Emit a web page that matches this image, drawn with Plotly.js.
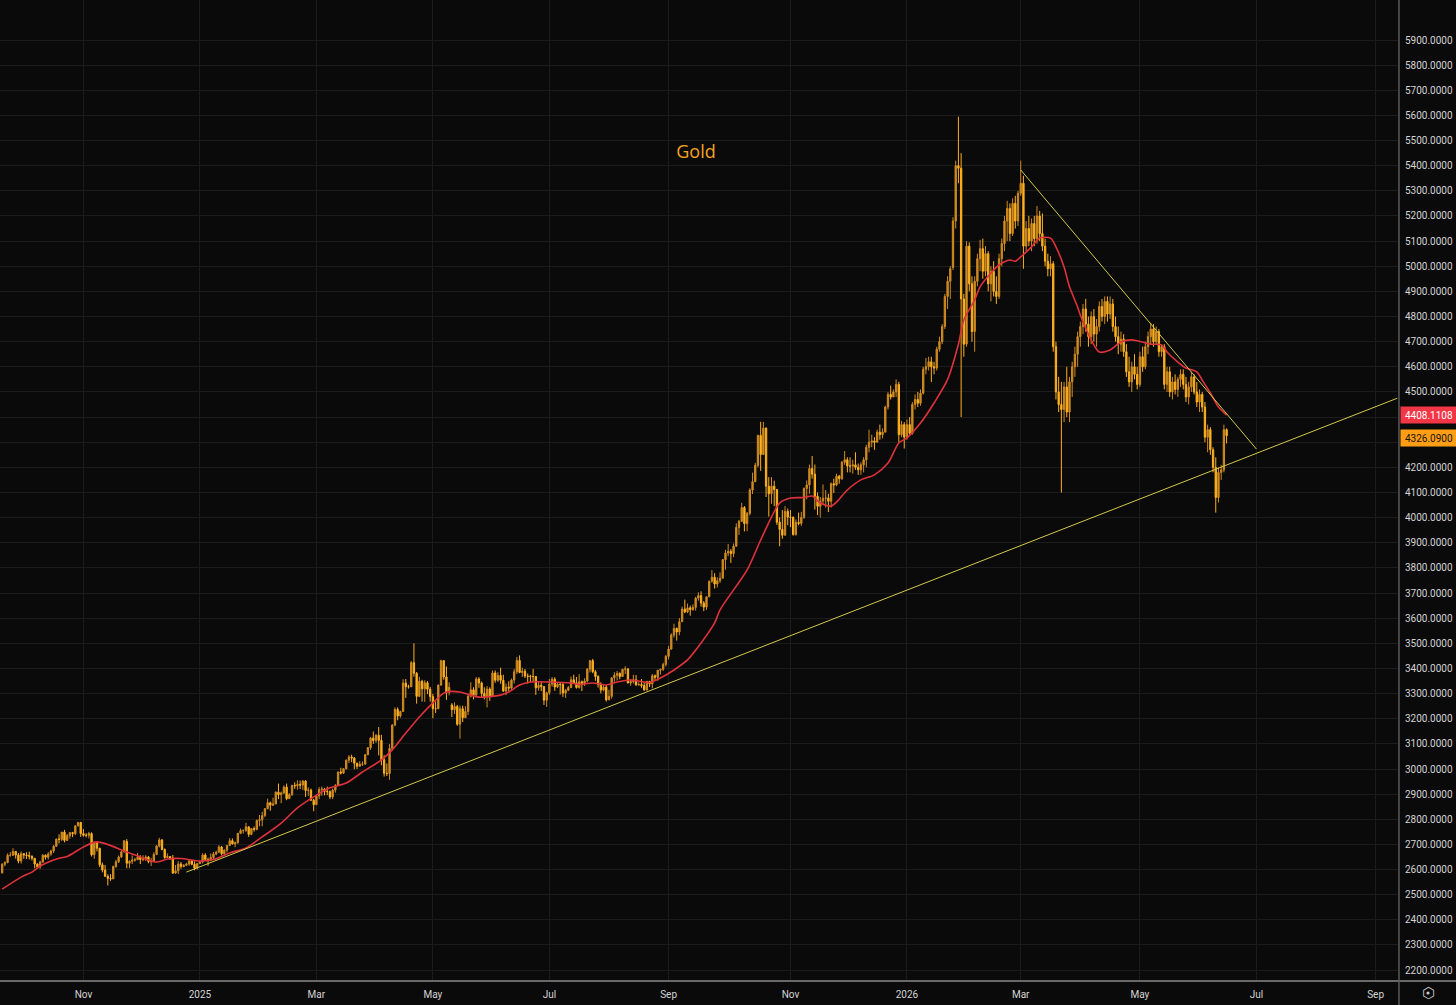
<!DOCTYPE html>
<html><head><meta charset="utf-8">
<script src="https://cdn.plot.ly/plotly-3.0.1.min.js"></script>
<style>html,body{margin:0;padding:0;background:#0a0a0a;overflow:hidden}#chart{width:1456px;height:1005px}</style>
</head><body><div id="chart"></div>
<script>
// first bar date; one bar per weekday
const startDate = '2024-09-20';

const open = [2587,
2621,2628,2657,2657,2672, 2658,2634,2663,2658,2656, 2653,2645,2622,2611,2630, 2657,2649,2662,2674,2693, 2721,2720,2749,2716,2735,
2747,2743,2774,2787,2743, 2736,2736,2743,2659,2706, 2685,2619,2598,2573,2565, 2563,2612,2631,2650,2670, 2712,2625,2633,2638,2639,
2650,2640,2643,2650,2632, 2633,2660,2694,2718,2680, 2648,2652,2646,2586,2595, 2622,2612,2617,2622,2634, 2621,2606,2624,2630,2658,
2640,2636,2648,2662,2669, 2690,2663,2677,2696,2715, 2702,2708,2744,2755,2755, 2770,2740,2763,2760,2795, 2798,2815,2842,2866,2856,
2861,2908,2898,2905,2928, 2882,2898,2935,2933,2939, 2936,2952,2915,2916,2876, 2858,2893,2918,2920,2911, 2910,2889,2916,2934,2988,
2984,3001,3035,3048,3044, 3023,3011,3019,3020,3057, 3085,3123,3113,3134,3114, 3037,2983,2982,3082,3175, 3237,3211,3229,3342,3327,
3327,3423,3381,3289,3349, 3319,3343,3317,3288,3240, 3240,3334,3431,3366,3306, 3255,3236,3249,3178,3240, 3204,3229,3290,3315,3295,
3358,3342,3301,3288,3318, 3289,3382,3353,3372,3353, 3310,3326,3322,3354,3387, 3432,3384,3389,3370,3369, 3368,3368,3323,3333,3328,
3274,3303,3338,3357,3326, 3337,3336,3302,3313,3324, 3355,3343,3324,3347,3339, 3350,3397,3431,3387,3368, 3337,3314,3326,3275,3289,
3363,3373,3380,3368,3397, 3398,3342,3348,3355,3335, 3336,3332,3315,3348,3339, 3371,3365,3393,3397,3416, 3448,3477,3533,3559,3545,
3586,3636,3625,3641,3634, 3643,3680,3690,3660,3644, 3685,3747,3763,3736,3749, 3759,3833,3859,3866,3857, 3886,3961,3985,4040,3976,
4017,4110,4143,4208,4327, 4251,4356,4125,4095,4125, 4112,3982,3953,3930,4025, 4002,4001,3933,3981,3977, 4001,4116,4130,4195,4173,
4085,4045,4066,4077,4078, 4065,4135,4130,4165,4155, 4220,4230,4205,4205,4210, 4200,4190,4210,4230,4280, 4300,4305,4300,4340,4330,
4340,4440,4490,4480,4500, 4530,4330,4370,4320,4370,
4335,4450,4470,4455,4495, 4590,4600,4620,4600,4595, 4670,4700,4760,4880,4940, 4995,5180,5400,5390,4870, 4690,5080,4930,4740,4940,
5030,5070,4980,5050,4930, 4980,4900,4880,5030,5090, 5180,5230,5130,5250,5180, 5290,5330,5080,5150,5100, 5170,5110,5200,5130,5080,
5020,4990,5010,4680,4500, 4450,4430,4520,4420,4540, 4600,4650,4720,4760,4830, 4770,4720,4800,4730,4760, 4840,4800,4860,4810,4850,
4760,4720,4690,4710,4660, 4580,4540,4600,4570,4530, 4640,4600,4680,4720,4750, 4700,4740,4660,4680,4530, 4580,4500,4540,4510,4550,
4570,4530,4480,4520,4560, 4500,4460,4490,4440,4320, 4350,4270,4200,4080,4180, 4190,4350];

const high = [2625,
2633,2664,2670,2685,2674, 2666,2672,2666,2669,2671, 2656,2645,2625,2635,2661, 2660,2669,2679,2697,2723, 2740,2749,2758,2741,2748,
2750,2775,2790,2790,2761, 2745,2750,2748,2711,2709, 2686,2628,2618,2581,2582, 2616,2639,2656,2675,2716, 2721,2637,2656,2647,2666,
2657,2657,2657,2654,2647, 2669,2697,2726,2721,2684, 2664,2652,2658,2618,2633, 2630,2621,2627,2638,2637, 2633,2626,2634,2665,2665,
2647,2664,2670,2675,2697, 2694,2681,2698,2725,2724, 2711,2746,2763,2760,2786, 2772,2765,2771,2799,2817, 2830,2845,2882,2870,2886,
2911,2942,2910,2935,2942, 2904,2937,2947,2955,2954, 2956,2955,2927,2922,2881, 2896,2928,2930,2925,2930, 2915,2922,2940,2990,3005,
3004,3038,3055,3057,3047, 3025,3031,3030,3059,3087, 3128,3149,3139,3167,3136, 3055,3022,3099,3178,3245, 3245,3232,3357,3358,3335,
3430,3500,3386,3367,3355, 3353,3350,3327,3299,3269, 3336,3435,3433,3408,3345, 3262,3265,3255,3252,3252, 3250,3296,3345,3325,3366,
3365,3348,3325,3330,3325, 3392,3392,3385,3403,3375, 3340,3349,3360,3398,3446, 3452,3403,3398,3380,3375, 3398,3370,3347,3350,3328,
3308,3358,3365,3365,3343, 3345,3345,3318,3330,3368, 3375,3366,3377,3352,3361, 3402,3434,3438,3394,3373, 3345,3333,3334,3315,3363,
3385,3390,3385,3398,3409, 3402,3357,3375,3374,3345, 3358,3345,3351,3351,3378, 3376,3394,3398,3423,3454, 3490,3540,3578,3563,3600,
3646,3674,3658,3650,3655, 3685,3703,3707,3668,3686, 3749,3791,3779,3762,3782, 3835,3872,3895,3875,3897, 3977,3991,4059,4046,4022,
4117,4179,4218,4330,4381, 4381,4359,4161,4161,4147, 4097,4001,4030,4046,4036, 4030,4005,3993,4020,4023, 4120,4148,4211,4245,4211,
4100,4082,4132,4110,4095, 4140,4155,4175,4170,4225, 4265,4240,4240,4230,4260, 4215,4220,4240,4290,4350, 4330,4320,4350,4370,4355,
4445,4500,4525,4510,4550, 4540,4385,4380,4390,4400,
4460,4490,4500,4510,4600, 4635,4640,4640,4620,4680, 4720,4770,4890,4960,5000, 5195,5420,5595,5450,4890, 5100,5095,4960,4960,5050,
5105,5110,5080,5060,5000, 5020,4960,5050,5110,5200, 5260,5250,5270,5280,5300, 5420,5360,5180,5200,5190, 5200,5240,5220,5210,5110,
5050,5040,5020,4700,4560, 4540,4540,4600,4560,4620, 4680,4740,4780,4850,4870, 4800,4820,4830,4790,4860, 4870,4880,4880,4880,4870,
4800,4760,4740,4730,4690, 4640,4620,4650,4600,4660, 4680,4700,4740,4775,4770, 4760,4750,4690,4690,4600, 4600,4560,4570,4560,4590,
4590,4560,4540,4580,4570, 4540,4510,4500,4460,4370, 4360,4280,4240,4200,4210, 4370,4355];

const low = [2584,
2613,2625,2651,2654,2643, 2625,2624,2643,2642,2640, 2636,2605,2605,2603,2626, 2640,2640,2655,2666,2690, 2704,2713,2708,2718,2723,
2729,2737,2771,2730,2731, 2728,2724,2652,2643,2672, 2610,2589,2572,2537,2555, 2562,2607,2626,2647,2668, 2605,2605,2622,2631,2638,
2622,2633,2634,2625,2614, 2630,2659,2688,2677,2643, 2646,2638,2583,2583,2582, 2603,2609,2614,2615,2617, 2597,2600,2622,2624,2635,
2615,2633,2642,2657,2667, 2656,2659,2668,2693,2700, 2689,2702,2741,2743,2750, 2730,2737,2751,2756,2772, 2772,2808,2840,2834,2853,
2860,2880,2864,2900,2876, 2881,2893,2921,2918,2920, 2916,2889,2893,2873,2832, 2857,2880,2894,2895,2896, 2880,2880,2906,2932,2978,
2980,2998,3024,3027,2999, 3000,3009,3012,3016,3055, 3076,3100,3104,3054,3015, 2970,2972,2957,3074,3170, 3194,3204,3228,3283,3320,
3330,3367,3260,3286,3268, 3267,3298,3268,3202,3223, 3238,3331,3355,3275,3293, 3207,3219,3172,3121,3187, 3206,3215,3285,3277,3287,
3323,3285,3277,3245,3271, 3296,3343,3346,3339,3307, 3294,3308,3315,3340,3378, 3381,3366,3362,3340,3345, 3347,3295,3312,3310,3255,
3247,3295,3328,3311,3322, 3296,3287,3283,3310,3322, 3340,3320,3320,3310,3330, 3345,3384,3381,3351,3324, 3301,3309,3268,3282,3280,
3347,3352,3357,3373,3378, 3341,3331,3340,3330,3331, 3323,3311,3311,3326,3321, 3352,3351,3376,3390,3408, 3436,3475,3523,3511,3532,
3586,3620,3620,3610,3630, 3630,3670,3646,3628,3633, 3686,3741,3718,3722,3740, 3760,3793,3847,3820,3843, 3887,3931,3983,3945,3946,
4009,4094,4143,4200,4186, 4250,4082,4004,4055,4046, 3971,3886,3916,3930,3970, 3962,3928,3928,3970,3967, 3995,4073,4095,4155,4032,
4010,4000,4050,4040,4022, 4040,4098,4125,4135,4150, 4210,4180,4180,4175,4190, 4170,4170,4180,4200,4260, 4280,4270,4300,4310,4315,
4340,4430,4470,4480,4480, 4300,4320,4275,4310,4330,
4330,4430,4440,4445,4490, 4570,4585,4540,4570,4585, 4660,4690,4750,4830,4870, 4985,5150,5330,4400,4640, 4680,4900,4700,4660,4920,
4980,4950,4960,4900,4860, 4880,4850,4870,5000,5060, 5100,5100,5120,5150,5160, 5280,4990,5060,5080,5060, 5080,5090,5100,5060,5000,
4960,4960,4660,4470,4420, 4100,4380,4400,4380,4480, 4560,4600,4680,4730,4740, 4680,4690,4700,4680,4740, 4780,4770,4780,4790,4740,
4700,4650,4660,4640,4560, 4520,4500,4550,4510,4520, 4580,4590,4650,4690,4680, 4690,4640,4640,4510,4500, 4480,4470,4490,4480,4520,
4510,4460,4450,4500,4490, 4440,4420,4420,4300,4260, 4250,4180,4020,4060,4150, 4180,4295];

const close = [2621,
2628,2657,2657,2672,2658, 2634,2663,2658,2656,2653, 2645,2622,2611,2630,2657, 2649,2662,2674,2693,2721, 2720,2749,2716,2735,2747,
2743,2774,2787,2743,2736, 2736,2743,2659,2706,2685, 2619,2598,2573,2565,2563, 2612,2631,2650,2670,2715, 2625,2633,2638,2639,2650,
2640,2643,2650,2632,2633, 2660,2694,2718,2680,2648, 2652,2646,2586,2595,2622, 2612,2617,2622,2634,2621, 2606,2624,2630,2658,2640,
2636,2648,2662,2669,2690, 2663,2677,2696,2715,2702, 2708,2744,2755,2755,2770, 2740,2763,2760,2795,2798, 2815,2842,2866,2856,2861,
2908,2898,2905,2928,2882, 2898,2935,2933,2939,2936, 2952,2915,2916,2876,2858, 2893,2918,2920,2911,2910, 2889,2916,2934,2988,2984,
3001,3035,3048,3044,3023, 3011,3019,3020,3057,3085, 3123,3113,3134,3114,3037, 2983,2982,3082,3175,3237, 3211,3229,3342,3327,3327,
3423,3381,3289,3349,3319, 3343,3317,3288,3240,3240, 3334,3431,3366,3306,3325, 3236,3249,3178,3240,3204, 3229,3290,3315,3295,3358,
3342,3301,3288,3318,3289, 3382,3353,3372,3353,3310, 3326,3322,3354,3387,3432, 3384,3389,3370,3369,3368, 3368,3323,3333,3328,3274,
3303,3338,3357,3326,3337, 3336,3302,3313,3324,3355, 3343,3324,3347,3339,3350, 3397,3431,3387,3368,3337, 3314,3326,3275,3289,3363,
3373,3380,3368,3397,3398, 3342,3348,3355,3335,3336, 3332,3315,3348,3339,3371, 3365,3393,3397,3416,3448, 3477,3533,3559,3545,3586,
3636,3625,3641,3634,3643, 3680,3690,3660,3644,3685, 3747,3763,3736,3749,3759, 3833,3859,3866,3857,3886, 3961,3985,4040,3976,4017,
4110,4143,4208,4327,4251, 4356,4125,4095,4125,4112, 3982,3953,3930,4025,4002, 4001,3933,3981,3977,4001, 4116,4130,4195,4173,4085,
4045,4066,4077,4078,4065, 4135,4130,4165,4155,4220, 4230,4205,4205,4210,4200, 4190,4210,4230,4280,4300, 4305,4300,4340,4330,4340,
4440,4490,4480,4500,4530, 4330,4370,4320,4370,4335,
4450,4470,4455,4495,4590, 4600,4620,4600,4595,4670, 4700,4760,4880,4940,4990, 5180,5400,5390,4870,4690, 5080,4930,4740,4940,5030,
5070,4980,5050,4930,4980, 4900,4880,5030,5090,5180, 5230,5130,5250,5180,5290, 5330,5080,5150,5100,5170, 5110,5200,5130,5080,5020,
4990,5010,4680,4500,4450, 4430,4520,4420,4540,4600, 4650,4720,4760,4830,4770, 4720,4800,4730,4760,4840, 4800,4860,4810,4850,4760,
4720,4690,4710,4660,4580, 4540,4600,4570,4530,4640, 4600,4680,4720,4750,4700, 4740,4660,4680,4530,4580, 4500,4540,4510,4550,4570,
4530,4480,4520,4560,4500, 4460,4490,4440,4320,4350, 4270,4200,4080,4180,4190, 4350,4326.09];

// 20-period moving average (bar index -> value)
const maBar = [0,7,11,14,21,24,30,35,46,52,57,61,66,73,78,84,90,96,103,109,115,121,127,133,140,144,149,154,159,163,165,169,172,176,184,187,191,195,202,210,213,218,223,227,232,236,239,243,248,253,258,263,265,275,280,284,287,291,296,299,302,306,308,312,317,322,327,331,334,339,344,349,353,355,359,361,365,368,372,374,376,380,383,387,389,392,394,397,398,402,405,409,413,417,424,428,430,434,437,441,443,446,449,452];
const maVal = [2522,2570,2590,2614,2645,2652,2690,2710,2670,2646,2630,2642,2644,2634,2640,2666,2686,2730,2785,2845,2889,2925,2944,2988,3036,3076,3143,3207,3263,3302,3308,3306,3297,3286,3294,3306,3334,3346,3346,3342,3336,3342,3334,3346,3354,3348,3344,3362,3394,3434,3501,3581,3633,3792,3911,4002,4058,4078,4080,4086,4058,4046,4062,4110,4150,4170,4217,4297,4317,4376,4456,4550,4690,4786,4866,4918,4973,5005,5025,5020,5037,5077,5112,5112,5077,4997,4918,4838,4806,4707,4659,4667,4699,4707,4690,4687,4659,4619,4595,4580,4547,4496,4440,4408.1108];

// drawn trend lines
const supportX = ['2024-12-25','2026-09-11'];
const supportY = [2590, 4475];
const resistX = ['2026-03-02','2026-07-01'];
const resistY = [5383, 4273];

const yTicks = [2200,2300,2400,2500,2600,2700,2800,2900,3000,3100,3200,3300,3400,3500,3600,3700,3800,3900,4000,4100,4200,4300,4400,4500,4600,4700,4800,4900,5000,5100,5200,5300,5400,5500,5600,5700,5800,5900];
const xTickVals = ['2024-11-01','2025-01-01','2025-03-03','2025-05-01','2025-07-01','2025-09-01','2025-11-03','2026-01-01','2026-03-02','2026-05-01','2026-07-01','2026-09-01'];
const xTickText = ['Nov','2025','Mar','May','Jul','Sep','Nov','2026','Mar','May','Jul','Sep'];

function tradingDays(start, n){
  const out=[]; const d=new Date(start+'T00:00:00Z');
  while(out.length<n){ const wd=d.getUTCDay(); if(wd!==0&&wd!==6) out.push(d.toISOString().slice(0,10)); d.setUTCDate(d.getUTCDate()+1); }
  return out;
}
const dates = tradingDays(startDate, close.length);
const maX = maBar.map(i=>dates[i]);

const UP='#cf8b22', DOWN='#ffb11f';
const traces = [
  {type:'candlestick', x:dates, open:open, high:high, low:low, close:close,
   increasing:{line:{color:UP,width:1}, fillcolor:UP},
   decreasing:{line:{color:DOWN,width:1}, fillcolor:DOWN},
   whiskerwidth:0, hoverinfo:'skip', showlegend:false},
  {type:'scatter', mode:'lines', x:maX, y:maVal, line:{color:'#e0323c', width:1.6, shape:'spline', smoothing:0.8}, hoverinfo:'skip', showlegend:false},
  {type:'scatter', mode:'lines', x:supportX, y:supportY, line:{color:'#d3c94a', width:1}, hoverinfo:'skip', showlegend:false},
  {type:'scatter', mode:'lines', x:resistX, y:resistY, line:{color:'#d3c94a', width:1}, hoverinfo:'skip', showlegend:false}
];

const tickFont = {family:'Roboto, "DejaVu Sans", sans-serif', size:10, color:'#d4d4d4'};
const gx = 1428/1398, gy = -12/981;
const layout = {
  width:1456, height:1005,
  margin:{l:0, r:58, t:0, b:24, pad:0},
  paper_bgcolor:'#0a0a0a', plot_bgcolor:'#0a0a0a',
  showlegend:false,
  title:{text:'Gold', font:{family:'"Open Sans", sans-serif', size:18, color:'#f5a31f'},
         xref:'container', yref:'container', x:696/1456, y:1-152/1005, xanchor:'center', yanchor:'middle'},
  xaxis:{type:'date', range:['2024-09-19 04:48','2026-09-11 06:30'],
         rangebreaks:[{pattern:'day of week', bounds:[6,1]}],
         rangeslider:{visible:false}, tickmode:'array', tickvals:xTickVals, ticktext:xTickText,
         showgrid:true, gridcolor:'#1c1c1c', gridwidth:1, zeroline:false, showline:false, ticks:'',
         tickfont:tickFont, ticklabelstandoff:6, fixedrange:true},
  yaxis:{side:'right', range:[2156.7, 6059.1], tickmode:'array', tickvals:yTicks, tickformat:'.4f',
         showgrid:true, gridcolor:'#1c1c1c', gridwidth:1, zeroline:false, showline:false, ticks:'',
         tickfont:tickFont, ticklabelstandoff:6, fixedrange:true},
  shapes:[
    {type:'line', xref:'paper', yref:'paper', x0:0, x1:1.05, y0:0, y1:0, line:{color:'#6a6a6a', width:2}},
    {type:'line', xref:'paper', yref:'paper', x0:1.0007, x1:1.0007, y0:-0.03, y1:1, line:{color:'#5a5a5a', width:1.5}},
    {type:'circle', xref:'paper', yref:'paper', x0:gx-1.6/1398, x1:gx+1.6/1398, y0:gy-1.6/981, y1:gy+1.6/981,
     fillcolor:'#c8c8c8', line:{width:0}}
  ],
  annotations:[
    {xref:'paper', yref:'y', x:1.0012, xanchor:'left', y:maVal[maVal.length-1], yanchor:'middle',
     text:maVal[maVal.length-1].toFixed(4), showarrow:false, bgcolor:'#f23645', width:54, height:14, borderpad:1,
     font:{family:'Roboto, sans-serif', size:10, color:'#ffffff'}},
    {xref:'paper', yref:'y', x:1.0012, xanchor:'left', y:close[close.length-1], yanchor:'middle', yshift:-2,
     text:close[close.length-1].toFixed(4), showarrow:false, bgcolor:'#ff9d14', width:54, height:14, borderpad:1,
     font:{family:'Roboto, sans-serif', size:10, color:'#141414'}},
    {xref:'paper', yref:'paper', x:gx, y:gy, xanchor:'center', yanchor:'middle',
     text:'⬡', showarrow:false, font:{family:'"DejaVu Sans", sans-serif', size:15, color:'#c8c8c8'}}
  ]
};
Plotly.newPlot('chart', traces, layout, {displayModeBar:false, staticPlot:true});
</script></body></html>
